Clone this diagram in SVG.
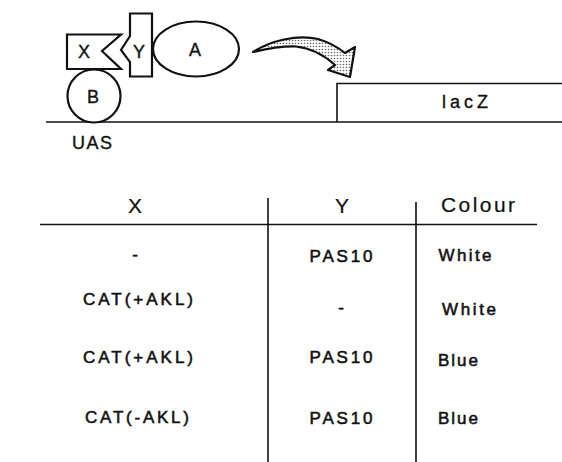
<svg xmlns="http://www.w3.org/2000/svg" width="562" height="462" viewBox="0 0 562 462">
<style>
.ln{stroke:#111;stroke-width:1.6;fill:none}
.sh{stroke:#111;stroke-width:2.2;fill:#fff}
text{font-family:"Liberation Sans",Arial,Helvetica,sans-serif;fill:#111;stroke:#111;stroke-width:0.35}
.lab{font-size:18px;text-anchor:middle}
.hd{font-size:21px;text-anchor:middle;stroke-width:0.2}
.rw{font-size:17px;text-anchor:middle;stroke-width:0.55}
</style>
<defs>
<pattern id="dots" width="3" height="3" patternUnits="userSpaceOnUse">
<rect width="3" height="3" fill="#fff"/>
<circle cx="1.5" cy="1.5" r="0.8" fill="#666"/>
</pattern>
</defs>
<g id="dna">
<line class="ln" x1="46" y1="122" x2="562" y2="122"/>
</g>
<g id="lacZ">
<path class="ln" d="M337,122 V83.5 H562"/>
<text class="lab" x="465" y="108" textLength="46" lengthAdjust="spacing">lacZ</text>
</g>
<g id="UAS"><text class="lab" x="92" y="149" textLength="40" lengthAdjust="spacing">UAS</text></g>
<g id="B">
<circle class="sh" cx="94" cy="96" r="26.5"/>
<text class="lab" x="93" y="103">B</text>
</g>
<g id="X">
<polygon class="sh" points="67,34.5 121,34.5 102,51 121,69 67,69"/>
<text class="lab" x="84" y="58">X</text>
</g>
<g id="Y">
<polygon class="sh" points="130,13.5 152,13.5 152,76.5 130,76.5 130,62 121,50 130,36"/>
<text class="lab" x="139" y="58">Y</text>
</g>
<g id="A">
<ellipse class="sh" cx="196" cy="49" rx="43" ry="27.5"/>
<text class="lab" x="195" y="56">A</text>
</g>
<g id="connectors">
<path d="M253,52 C270,41 297,34 318,39 C331,43 340,49 345,53 L355,47 L350,77 L328,70 L335,65 C325,56 311,48 296,46.5 C281,46 266,49 253,52 Z" fill="url(#dots)" stroke="#111" stroke-width="2.2" stroke-linejoin="round"/>
</g>
<g id="table">
<line class="ln" x1="40" y1="224.5" x2="537" y2="224.5"/>
<line class="ln" x1="268" y1="198" x2="268" y2="462"/>
<line class="ln" x1="416" y1="202" x2="416" y2="462"/>
<text class="hd" x="135" y="213">X</text>
<text class="hd" x="342" y="213">Y</text>
<text class="hd" x="478" y="212" textLength="74" lengthAdjust="spacing">Colour</text>
<text class="rw" x="135" y="260">-</text>
<text class="rw" x="341" y="262" textLength="63" lengthAdjust="spacing">PAS10</text>
<text class="rw" x="465" y="261" textLength="53" lengthAdjust="spacing">White</text>
<text class="rw" x="138" y="305" textLength="110" lengthAdjust="spacing">CAT(+AKL)</text>
<text class="rw" x="341" y="313">-</text>
<text class="rw" x="469" y="315" textLength="54" lengthAdjust="spacing">White</text>
<text class="rw" x="138" y="363" textLength="110" lengthAdjust="spacing">CAT(+AKL)</text>
<text class="rw" x="341" y="363" textLength="63" lengthAdjust="spacing">PAS10</text>
<text class="rw" x="458" y="366" textLength="40" lengthAdjust="spacing">Blue</text>
<text class="rw" x="137" y="423" textLength="104" lengthAdjust="spacing">CAT(-AKL)</text>
<text class="rw" x="341" y="424" textLength="63" lengthAdjust="spacing">PAS10</text>
<text class="rw" x="458" y="424" textLength="40" lengthAdjust="spacing">Blue</text>
</g>
</svg>
